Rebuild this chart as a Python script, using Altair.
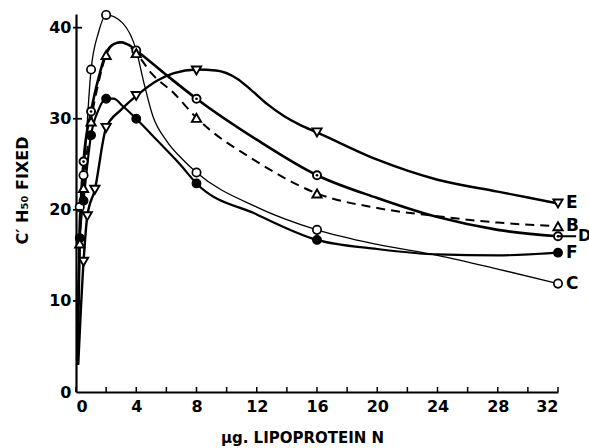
import altair as alt
import pandas as pd

# ---- traced curves ----
C_line_x = [0.1, 0.25, 0.5, 1, 1.5, 2, 3.1, 4, 4.5, 5.1, 6, 7.1, 8, 12, 16, 20, 24, 28, 32]
C_line_y = [3, 20.3, 23.8, 35.4, 39.5, 41.4, 40.5, 37.5, 34.0, 30.3, 27.6, 25.5, 24.1, 20.3, 17.8, 16.2, 15.0, 13.5, 11.9]

F_line_x = [0.1, 0.25, 0.5, 1, 1.5, 2, 2.5, 3.1, 4, 5.4, 6.9, 8, 12, 16, 20, 24, 28, 32]
F_line_y = [3, 16.9, 21.0, 28.2, 31.0, 32.2, 32.2, 31.4, 30.0, 27.6, 25.0, 22.9, 19.5, 16.7, 15.7, 15.1, 15.0, 15.3]

D_line_x = [0.1, 0.25, 0.5, 1, 1.5, 2, 2.5, 3, 3.5, 4, 6, 8, 12, 16, 20, 24, 28, 32]
D_line_y = [3, 17.5, 25.3, 30.8, 34.5, 37.2, 38.2, 38.4, 38.1, 37.5, 34.8, 32.2, 27.7, 23.8, 21.3, 19.2, 17.8, 17.1]

B_line_x = [0.1, 0.25, 0.5, 1, 1.5, 2, 2.5, 3, 4, 5, 6.5, 8, 12, 16, 20, 24, 28, 32]
B_line_y = [3, 16.3, 22.4, 29.7, 34.0, 37.0, 38.2, 38.4, 37.2, 35.0, 32.8, 30.1, 25.3, 21.8, 20.2, 19.3, 18.6, 18.2]

E_line_x = [0.15, 0.5, 0.75, 1.25, 2, 3, 4, 5.4, 6.5, 8, 9.3, 10.7, 11.6, 12.7, 13.8, 14.9, 16, 20, 24, 28, 32]
E_line_y = [3, 14.3, 19.3, 22.2, 29.0, 31.0, 32.5, 34.2, 35.0, 35.4, 35.3, 34.4, 33.2, 31.6, 30.3, 29.3, 28.5, 25.5, 23.3, 22.0, 20.7]

# ---- plotted points ----
C_pts_x = [0.25, 0.5, 1, 2, 8, 16, 32]
C_pts_y = [20.3, 23.8, 35.4, 41.4, 24.1, 17.8, 11.9]

F_pts_x = [0.25, 0.5, 1, 2, 4, 8, 16, 32]
F_pts_y = [16.9, 21.0, 28.2, 32.2, 30.0, 22.9, 16.7, 15.3]

D_pts_x = [0.5, 1, 4, 8, 16, 32]
D_pts_y = [25.3, 30.8, 37.5, 32.2, 23.8, 17.1]

B_pts_x = [0.25, 0.5, 1, 2, 4, 8, 16, 32]
B_pts_y = [16.3, 22.4, 29.7, 37.0, 37.2, 30.1, 21.8, 18.2]

E_pts_x = [0.5, 0.75, 1.25, 2, 4, 8, 16, 32]
E_pts_y = [14.3, 19.3, 22.2, 29.0, 32.5, 35.3, 28.5, 20.7]

# ---- labels / ticks ----
end_labels = ["E", "B", "F", "C"]
end_label_y = [E_pts_y[-1], B_pts_y[-1], F_pts_y[-1], C_pts_y[-1]]
d_label = ["D"]
d_label_y = [D_pts_y[-1]]
x_label_values = [0, 4, 8, 12, 16, 20, 24, 28, 32]
x_tick_values = list(range(0, 33, 2))
y_label_values = [0, 10, 20, 30, 40]
y_tick_values = [10, 20, 30, 40]

FONT = "DejaVu Sans"

x_scale = alt.Scale(domain=[0, 32], nice=False, zero=False)
y_scale = alt.Scale(domain=[0, 41.5], nice=False, zero=False)

X_AXIS = alt.Axis(
    values=x_label_values, ticks=False, grid=False, labelPadding=6,
    title="µg. LIPOPROTEIN N", titleX=226, titleY=45, titleBaseline="middle",
    titleAlign="center", titleFontSize=15)
Y_AXIS = alt.Axis(
    values=y_label_values, ticks=False, grid=False, labelPadding=5,
    title="C′ H₅₀ FIXED", titleX=-54, titleY=176, titleBaseline="middle",
    titleAlign="center", titleAngle=-90, titleFontSize=16)


def X():
    return alt.X("x:Q", scale=x_scale, axis=X_AXIS)


def Y():
    return alt.Y("y:Q", scale=y_scale, axis=Y_AXIS)


def df(xs, ys):
    return pd.DataFrame({"x": xs, "y": ys})


layers = []
# lines
layers.append(alt.Chart(df(C_line_x, C_line_y)).mark_line(
    interpolate="monotone", color="black", strokeWidth=1.3).encode(x=X(), y=Y()))
layers.append(alt.Chart(df(F_line_x, F_line_y)).mark_line(
    interpolate="monotone", color="black", strokeWidth=2.2).encode(x=X(), y=Y()))
layers.append(alt.Chart(df(D_line_x, D_line_y)).mark_line(
    interpolate="monotone", color="black", strokeWidth=2.6).encode(x=X(), y=Y()))
layers.append(alt.Chart(df(B_line_x, B_line_y)).mark_line(
    interpolate="monotone", color="black", strokeWidth=2.0, strokeDash=[9, 6]).encode(x=X(), y=Y()))
layers.append(alt.Chart(df(E_line_x, E_line_y)).mark_line(
    interpolate="monotone", color="black", strokeWidth=2.4).encode(x=X(), y=Y()))

# markers
layers.append(alt.Chart(df(C_pts_x, C_pts_y)).mark_point(
    shape="circle", filled=True, fill="white", stroke="black", strokeWidth=1.7, size=70, opacity=1).encode(x=X(), y=Y()))
layers.append(alt.Chart(df(F_pts_x, F_pts_y)).mark_point(
    shape="circle", filled=True, fill="black", stroke="black", strokeWidth=1.2, size=75, opacity=1).encode(x=X(), y=Y()))
layers.append(alt.Chart(df(D_pts_x, D_pts_y)).mark_point(
    shape="circle", filled=True, fill="white", stroke="black", strokeWidth=1.9, size=65, opacity=1).encode(x=X(), y=Y()))
layers.append(alt.Chart(df(D_pts_x, D_pts_y)).mark_point(
    shape="circle", filled=True, fill="black", size=7, opacity=1).encode(x=X(), y=Y()))
layers.append(alt.Chart(df(B_pts_x, B_pts_y)).mark_point(
    shape="triangle-up", filled=True, fill="white", stroke="black", strokeWidth=1.9, size=85, opacity=1).encode(x=X(), y=Y()))
layers.append(alt.Chart(df(E_pts_x, E_pts_y)).mark_point(
    shape="triangle-down", filled=True, fill="white", stroke="black", strokeWidth=1.9, size=85, opacity=1).encode(x=X(), y=Y()))

# inward ticks
layers.append(alt.Chart(pd.DataFrame({"x": x_tick_values})).mark_rule(
    color="black", strokeWidth=1.5).encode(x=X(), y=alt.value(378), y2=alt.value(373)))
layers.append(alt.Chart(pd.DataFrame({"y": y_tick_values})).mark_rule(
    color="black", strokeWidth=1.8).encode(y=Y(), x=alt.value(-3), x2=alt.value(6)))

# end labels
layers.append(alt.Chart(pd.DataFrame({"x": [32] * len(end_labels), "y": end_label_y, "t": end_labels})).mark_text(
    align="left", baseline="middle", dx=8, font=FONT, fontSize=17, fontWeight="bold", color="black").encode(
    x=X(), y=Y(), text="t:N"))
layers.append(alt.Chart(pd.DataFrame({"x": [32], "y": d_label_y, "t": d_label})).mark_text(
    align="left", baseline="middle", dx=20, font=FONT, fontSize=16, fontWeight="bold", color="black").encode(
    x=X(), y=Y(), text="t:N"))
layers.append(alt.Chart(pd.DataFrame({"x": [32], "y": d_label_y})).mark_rule(
    color="black", strokeWidth=2).encode(x=X(), y=Y(), x2=alt.datum(33.2)))

chart = alt.layer(*layers).properties(
    width=482, height=378,
    autosize=alt.AutoSizeParams(type="none"),
    padding={"left": 76, "top": 14, "right": 31, "bottom": 56},
    background="white",
).configure_view(stroke=None).configure_axis(
    domainColor="black", domainWidth=2.2, labelColor="black", titleColor="black",
    labelFont=FONT, titleFont=FONT, labelFontSize=16, labelFontWeight="bold",
    titleFontWeight="bold",
)

chart.save("out.html", embed_options={"renderer": "svg", "actions": False})
